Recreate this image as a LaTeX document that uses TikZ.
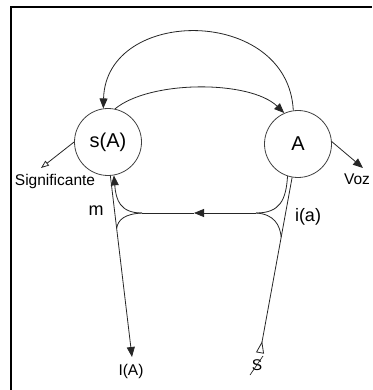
\documentclass[tikz,border=0pt]{standalone}
\usepackage{fontspec}
\setmainfont{Liberation Sans}
\usetikzlibrary{arrows.meta,calc}
\begin{document}
\begin{tikzpicture}[x=1pt,y=-1pt,
  ln/.style={draw=black!85,line width=0.8pt},
  circ/.style={circle,draw=black!75,line width=0.8pt,minimum size=67pt,inner sep=0pt,font=\fontsize{20}{22}\selectfont},
  tip/.style={-{Triangle[length=10pt,width=8pt]}},
  otip/.style={-{Triangle[open,length=8pt,width=6pt]}},
  small/.style={font=\fontsize{15.5}{17}\selectfont,inner sep=0pt},
  mid/.style={font=\fontsize{18}{20}\selectfont,inner sep=0pt}]
\useasboundingbox (0,0) rectangle (372,390);
\draw[line width=1.8pt] (11,390) -- (11,7) -- (372,7);
% circles
\node[circ] (sA) at (108,142) {s(A)};
\node[circ] (A) at (298,144) {A};
% top arcs
\draw[ln,tip] (A.98) .. controls (288,6) and (106,6) .. (sA.98);
\draw[ln,tip] (sA.78) .. controls (150,80) and (250,80) .. (A.114);
% Significante
\coordinate (sig) at (41,168);
\draw[ln,otip] (sA.180) -- (sig);
\node[small] (signif) at (55,181) {Significante};
% Voz
\coordinate (voz) at (363,168);
\draw[ln,tip] (A.4) -- (voz);
\node[small] (vozl) at (357,179) {Voz};
% bottom lines
\coordinate (IA) at (132,357);
\draw[ln,tip] (sA.-86) -- (IA);
\node[small] (IAl) at (131,371) {I(A)};
\coordinate (S) at (260,353);
\draw[ln,{Triangle[open,reversed,length=12pt,width=8pt]}-] (S) -- (A.-100);
\node[small] (Sl) at (257,365) {S};
\draw[ln,line width=0.7pt] (250,375) -- (263,356);
% cusps
\coordinate (L) at (142,213);
\coordinate (R) at (256,213);
\coordinate (M) at (194,213);
\coordinate (P) at ($(sA.-86)!0.29!(IA)$);
\coordinate (Q) at ($(A.-100)!0.34!(S)$);
\draw[ln,tip] (R) -- (M);
\draw[ln] (M) -- (L);
\draw[ln,tip] (L) .. controls (120,213) and (116,200) .. (sA.-80);
\draw[ln] (L) .. controls (124,214) and (118,220) .. (P);
\draw[ln] (R) .. controls (280,213) and (286,200) .. (A.-108);
\draw[ln] (R) .. controls (274,214) and (280,225) .. (Q);
\node[mid] (m) at (96,211) {m};
\node[mid] (ia) at (308,217) {i(a)};
\end{tikzpicture}
\end{document}
